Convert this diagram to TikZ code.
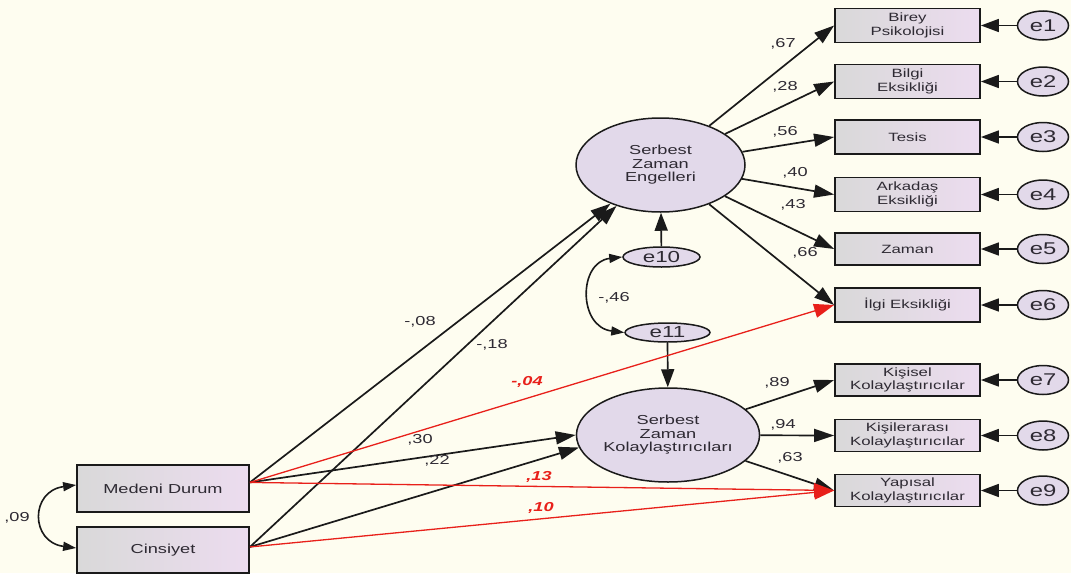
\documentclass[tikz,border=0pt]{standalone}
\usepackage{fontspec}
\setmainfont{Liberation Sans}[FakeStretch=1.4]
\usetikzlibrary{arrows.meta,shapes.geometric}
\definecolor{bg}{HTML}{FEFDF0}
\definecolor{boxL}{HTML}{D9D9D9}
\definecolor{boxR}{HTML}{ECDCEF}
\definecolor{latfill}{HTML}{E2D9EA}
\definecolor{txt}{HTML}{2E2A33}
\definecolor{redl}{HTML}{E8201A}
\definecolor{lin}{HTML}{1A1A1A}
\begin{document}
\begin{tikzpicture}[x=1pt,y=-1pt,
  obs/.style={rectangle, draw=lin, line width=1.8pt, left color=boxL, right color=boxR,
    minimum width=145pt, minimum height=34pt, inner sep=0pt, align=center, text=txt,
    font=\fontsize{12}{13.5}\selectfont},
  lat/.style={ellipse, draw=lin, line width=1.5pt, fill=latfill, minimum width=169pt,
    minimum height=94pt, inner sep=0pt, align=center, text=txt,
    font=\fontsize{13}{13.5}\selectfont},
  err/.style={ellipse, draw=lin, line width=1.5pt, fill=latfill, minimum width=51pt,
    minimum height=29pt, inner sep=0pt, text=txt, font=\fontsize{17}{17}\selectfont},
  serr/.style={ellipse, draw=lin, line width=1.5pt, fill=latfill, minimum height=20pt,
    inner sep=0pt, text=txt, font=\fontsize{16}{16}\selectfont},
  arr/.style={line width=1.7pt, draw=lin, -{Triangle[length=20pt,width=13pt]}},
  earr/.style={line width=1.7pt, draw=lin, -{Triangle[length=18pt,width=13pt]}},
  rarr/.style={line width=1.3pt, color=redl, -{Triangle[length=20pt,width=14pt]}},
  dbl/.style={line width=1.6pt, draw=lin, {Triangle[length=13pt,width=9pt]}-{Triangle[length=13pt,width=9pt]}},
  lbl/.style={text=txt, font=\fontsize{13}{13}\selectfont, inner sep=0pt},
  rlbl/.style={text=redl, font=\fontsize{13}{13}\selectfont\bfseries\itshape, inner sep=0pt}
]
\fill[bg] (0,0) rectangle (1071,573);
\useasboundingbox (0,0) rectangle (1071,573);

% observed variables
\node[obs] (b1) at (907.5,25.5) {Birey\\Psikolojisi};
\node[obs] (b2) at (907.5,81.5) {Bilgi\\Eksikliği};
\node[obs] (b3) at (907.5,137) {Tesis};
\node[obs] (b4) at (907.5,194.5) {Arkadaş\\Eksikliği};
\node[obs, minimum height=32pt] (b5) at (907.5,249) {Zaman};
\node[obs] (b6) at (907.5,305) {İlgi Eksikliği};
\node[obs, minimum height=32pt] (b7) at (907.5,380) {Kişisel\\Kolaylaştırıcılar};
\node[obs, minimum height=32pt] (b8) at (907.5,435.5) {Kişilerarası\\Kolaylaştırıcılar};
\node[obs, minimum height=32pt] (b9) at (907.5,490.5) {Yapısal\\Kolaylaştırıcılar};

% error terms
\node[err] (e1) at (1043,25.5) {e1};
\node[err] (e2) at (1043,81.5) {e2};
\node[err] (e3) at (1043,137) {e3};
\node[err] (e4) at (1043,194.5) {e4};
\node[err] (e5) at (1043,249) {e5};
\node[err] (e6) at (1043,305) {e6};
\node[err] (e7) at (1043,380) {e7};
\node[err] (e8) at (1043,435.5) {e8};
\node[err] (e9) at (1043,490.5) {e9};

% latent variables
\node[lat] (eng) at (660.5,165) {Serbest\\Zaman\\Engelleri};
\node[lat] (kol) at (668,435) {Serbest\\Zaman\\Kolaylaştırıcıları};
\node[serr, minimum width=77pt] (e10) at (661.5,257) {e10};
\node[serr, minimum width=85pt, minimum height=19pt] (e11) at (667.5,332.5) {e11};

% exogenous
\node[obs, minimum width=172pt, minimum height=47pt, font=\fontsize{13}{13.5}\selectfont] (med) at (163,488.5) {Medeni Durum};
\node[obs, minimum width=172pt, minimum height=46pt, font=\fontsize{13}{13.5}\selectfont] (cin) at (163,550) {Cinsiyet};

% error arrows
\foreach \i in {1,...,9} {\draw[earr] (e\i) -- (b\i);}

% loadings
\foreach \i in {1,...,6} {\draw[arr] (eng) -- (b\i.west);}
\foreach \i in {7,8,9} {\draw[arr] (kol) -- (b\i.west);}

\draw[earr] (e10) -- (eng);
\draw[earr] (e11) -- (kol);

% structural paths
\draw[arr] (med.4) -- (eng);
\draw[arr] (cin.2) -- (eng);
\draw[arr] (med.4) -- (kol.west);
\draw[arr] (cin.2) -- (kol.188);
\draw[rarr] (med.4) -- (b6.west);
\draw[rarr] (med.4) -- (b9.west);
\draw[rarr] (cin.2) -- (b9.west);

% covariances
\draw[dbl] (e10.west) .. controls (578,262) and (578,327) .. (e11.west);
\draw[dbl] ([yshift=3.5pt]med.west) .. controls (30,491) and (30,542) .. ([yshift=2pt]cin.west);

% labels
\node[lbl] (l1) at (783,44) {,67};
\node[lbl] (l2) at (785,87) {,28};
\node[lbl] (l3) at (785,132) {,56};
\node[lbl] (l4) at (795,173) {,40};
\node[lbl] (l5) at (793,205) {,43};
\node[lbl] (l6) at (805,253) {,66};
\node[lbl] (l7) at (777,383) {,89};
\node[lbl] (l8) at (783,425) {,94};
\node[lbl] (l9) at (790,458) {,63};
\node[lbl] (l10) at (614,298) {-,46};
\node[lbl] (l11) at (420,322) {-,08};
\node[lbl] (l12) at (492,345) {-,18};
\node[lbl] (l13) at (420,440) {,30};
\node[lbl] (l14) at (437,461) {,22};
\node[lbl] (l15) at (17,518) {,09};
\node[rlbl] (l16) at (527,382) {-,04};
\node[rlbl] (l17) at (539,477) {,13};
\node[rlbl] (l18) at (541,508) {,10};
\end{tikzpicture}
\end{document}
